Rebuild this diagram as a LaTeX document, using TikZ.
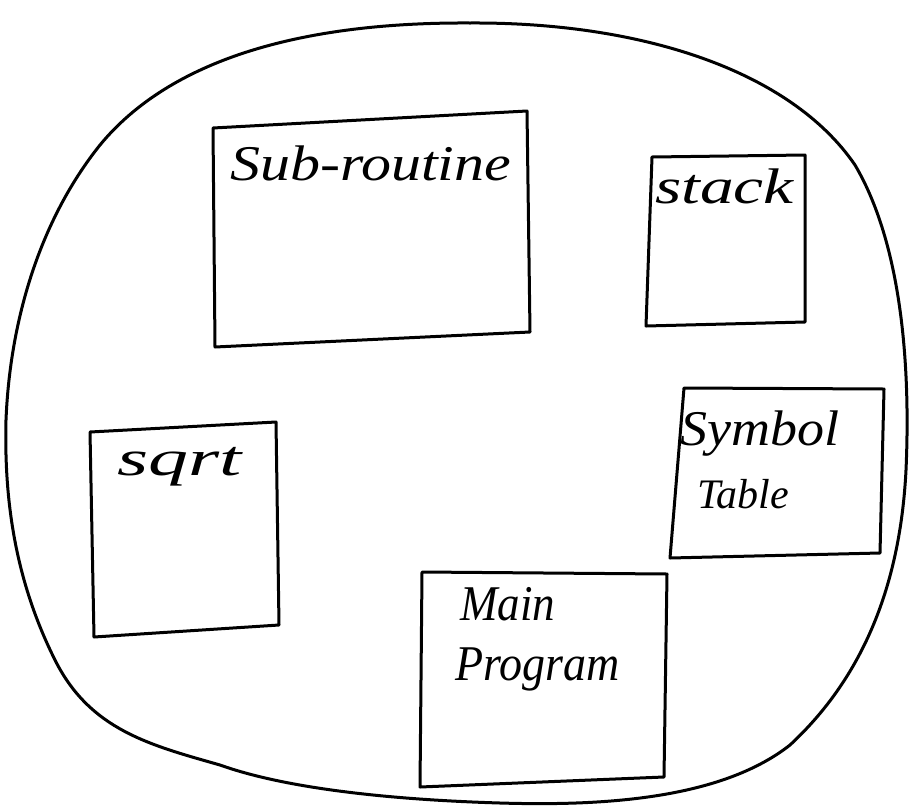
\documentclass[tikz,border=0pt]{standalone}
\usepackage{fontspec}
\setmainfont{Liberation Serif}
\begin{document}
\begin{tikzpicture}[x=1pt,y=-1pt,
  ink/.style={draw=black,line width=3pt,line join=round,line cap=round},
  hand/.style={font=\fontsize{50}{56}\selectfont\itshape,inner sep=0pt,anchor=base west}]
\useasboundingbox (0,0) rectangle (910,809);
\fill[white] (0,0) rectangle (910,809);

% outer boundary
\draw[ink] (470,23) .. controls (640,22) and (790,70) .. (855,165)
  .. controls (905,250) and (910,380) .. (906,470)
  .. controls (900,590) and (860,680) .. (790,745)
  .. controls (720,800) and (600,806) .. (500,803)
  .. controls (400,800) and (290,790) .. (220,765)
  .. controls (150,745) and (90,730) .. (55,660)
  .. controls (15,580) and (4,500) .. (6,420)
  .. controls (10,320) and (40,220) .. (100,145)
  .. controls (170,60) and (300,22) .. (470,23) -- cycle;

% memory regions
\draw[ink] (213,128) -- (527,111) -- (530,332) -- (215,347) -- cycle;
\draw[ink] (652,157) -- (805,155) -- (805,322) -- (646,326) -- cycle;
\draw[ink] (684,388) -- (884,389) -- (880,553) -- (670,558) -- cycle;
\draw[ink] (90,432) -- (276,422) -- (279,625) -- (94,637) -- cycle;
\draw[ink] (422,572) -- (667,574) -- (664,777) -- (420,787) -- cycle;

% labels
\node[hand] (sub) at (230,180) {\scalebox{1.2}[1]{Sub-routine}};
\node[hand] (stk) at (655,203) {\scalebox{1.35}[1]{stack}};
\node[hand] (sym) at (680,445) {\scalebox{1.08}[1]{Symbol}};
\node[hand,font=\fontsize{42}{48}\selectfont\itshape] (tab) at (697,508) {Table};
\node[hand] (sq) at (117,475) {\scalebox{1.6}[1]{sqrt}};
\node[hand] (mn) at (460,620) {\scalebox{0.9}[1]{Main}};
\node[hand] (pg) at (455,680) {\scalebox{0.92}[1]{Program}};
\end{tikzpicture}
\end{document}
